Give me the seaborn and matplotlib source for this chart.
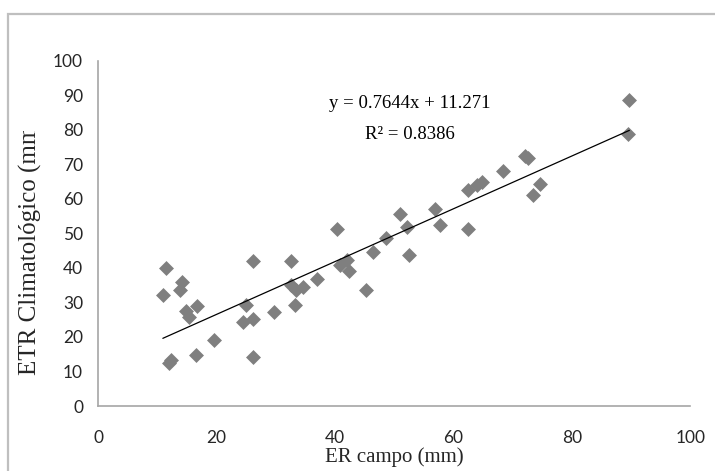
import numpy as np
import pandas as pd
import matplotlib.pyplot as plt
import seaborn as sns
from matplotlib.patches import Rectangle
from matplotlib.transforms import Bbox, TransformedBbox

# Data
er_campo = [10.9, 11.4, 12.0, 12.3, 13.8, 14.2, 14.8, 15.4, 16.5, 16.6,
            19.5, 24.5, 24.9, 26.2, 26.2, 26.2, 29.7, 32.5, 32.5, 33.2,
            33.4, 34.6, 36.9, 40.3, 40.8, 42.0, 42.4, 45.3, 46.4, 48.6,
            51.0, 52.1, 52.4, 56.9, 57.7, 62.5, 62.5, 63.9, 64.8, 68.3,
            72.0, 72.6, 73.5, 74.6, 89.4, 89.7]
etr_clim = [32.1, 39.9, 12.5, 13.2, 33.6, 36.0, 27.6, 25.9, 14.8, 29.0,
            19.1, 24.4, 29.2, 42.1, 14.3, 25.1, 27.3, 42.1, 35.0, 29.2,
            33.6, 34.5, 36.7, 51.3, 40.8, 42.3, 39.2, 33.5, 44.6, 48.8,
            55.7, 51.9, 43.7, 57.0, 52.4, 51.2, 62.6, 64.0, 65.0, 68.1,
            72.3, 71.9, 61.0, 64.2, 78.9, 88.5]
slope = 0.7644
intercept = 11.271
r2 = 0.8386
x_ticks = [0, 20, 40, 60, 80, 100]
y_ticks = [0, 10, 20, 30, 40, 50, 60, 70, 80, 90, 100]

sns.set_style("white")
plt.rcParams['font.family'] = ['Lato', 'DejaVu Sans']

fig = plt.figure(figsize=(7.15, 4.71), dpi=100)
ax = fig.add_axes([0.1375, 0.138, 0.828, 0.733])

df = pd.DataFrame({'er': er_campo, 'etr': etr_clim})
sns.scatterplot(data=df, x='er', y='etr', marker='D', s=58, color='#7f7f7f',
                linewidth=0, ax=ax, zorder=2)

# linear trend line over the data range
xs = np.array([min(er_campo), max(er_campo)])
trend = pd.DataFrame({'x': xs, 'y': slope * xs + intercept})
sns.lineplot(data=trend, x='x', y='y', color='black', lw=0.9, ax=ax, zorder=3)

ax.text(52.6, 87.7, f"y = {slope}x + {intercept}", ha='center', va='center',
        family='Liberation Serif', fontsize=13.5, color='black')
ax.text(52.6, 78.5, f"R² = {r2}", ha='center', va='center',
        family='Liberation Serif', fontsize=13.5, color='black')

ax.set_xlim(0, 100)
ax.set_ylim(0, 100)
ax.set_xticks(x_ticks)
ax.set_yticks(y_ticks)
ax.tick_params(axis='both', length=0, labelsize=12.5, labelcolor='#262626')
ax.tick_params(axis='x', pad=17)
ax.tick_params(axis='y', pad=11)

for side in ['top', 'right']:
    ax.spines[side].set_visible(False)
for side in ['left', 'bottom']:
    ax.spines[side].set_color('#a6a6a6')
    ax.spines[side].set_linewidth(1.2)

ax.set_xlabel("ER campo (mm)", family='Liberation Serif', fontsize=15, labelpad=1)
ax.set_ylabel("ETR Climatológico (mm)", family='Liberation Serif', fontsize=18)
ylab = ax.yaxis.label
ylab.set_verticalalignment('center')
ax.yaxis.set_label_coords(-0.114, 0.465)
# label is cut off at the top like in the original
ylab.set_clip_box(TransformedBbox(Bbox([[0, 0], [1, 1 - 131 / 471]]), fig.transFigure))
ylab.set_clip_on(True)

# outer chart frame
fig.add_artist(Rectangle((7.5 / 715, -0.1), 1.2, 1.1 - 14 / 471, transform=fig.transFigure,
                         fill=False, edgecolor='#bfbfbf', linewidth=1.6))

fig.savefig("out.png", dpi=100)
